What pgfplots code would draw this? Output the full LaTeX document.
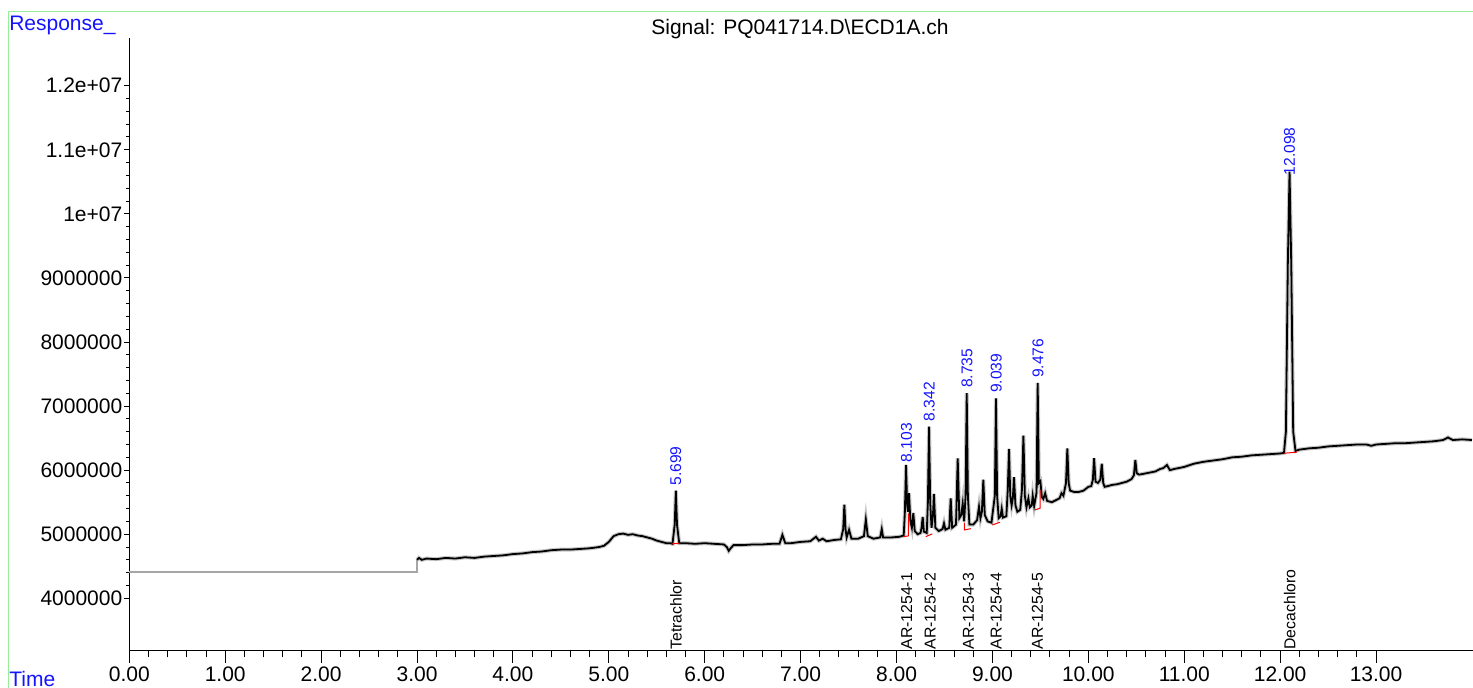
\documentclass[border=0pt]{standalone}
\usepackage{fontspec}
\setmainfont{Liberation Sans}
\usepackage{pgfplots}
\pgfplotsset{compat=1.18}
\usepackage{pgfplotstable}
\definecolor{frameGreen}{RGB}{150,238,150}
\definecolor{lblBlue}{RGB}{20,20,255}

% flat part before the detector trace starts (response in millions)
\pgfplotstableread{
x y
0 4.415
3.0 4.415
3.0 4.60
}\flatpart

% chromatogram trace, time in min, response in millions
\pgfplotstableread{
x y
3.00 4.60
3.02 4.63
3.05 4.60
3.10 4.62
3.20 4.61
3.30 4.63
3.40 4.62
3.50 4.64
3.60 4.63
3.70 4.65
3.80 4.66
3.90 4.67
4.00 4.69
4.10 4.70
4.20 4.72
4.30 4.73
4.40 4.75
4.50 4.76
4.60 4.76
4.70 4.77
4.80 4.78
4.90 4.80
4.95 4.82
5.00 4.88
5.05 4.97
5.10 5.00
5.15 5.01
5.20 4.99
5.25 5.00
5.30 4.98
5.35 4.97
5.40 4.95
5.45 4.93
5.50 4.90
5.55 4.88
5.60 4.86
5.64 4.86
5.664 4.85
5.687 5.15
5.699 5.68
5.711 5.15
5.734 4.86
5.80 4.86
5.90 4.85
6.00 4.86
6.10 4.85
6.20 4.84
6.23 4.80
6.25 4.74
6.27 4.78
6.30 4.83
6.40 4.83
6.50 4.84
6.60 4.84
6.70 4.85
6.78 4.85
6.81 4.99
6.84 4.86
6.90 4.86
7.00 4.88
7.10 4.89
7.16 4.96
7.19 4.90
7.23 4.93
7.27 4.89
7.35 4.91
7.42 4.92
7.444 5.08
7.456 5.46
7.468 5.08
7.48 4.95
7.505 5.07
7.53 4.93
7.60 4.93
7.66 4.97
7.68 5.23
7.70 4.97
7.76 4.93
7.83 4.95
7.846 5.08
7.86 4.95
7.95 4.95
8.03 4.96
8.075 4.98
8.087 5.35
8.099 6.08
8.111 5.45
8.12 5.35
8.13 5.64
8.145 5.20
8.16 5.10
8.175 5.33
8.19 5.05
8.22 5.00
8.25 5.02
8.261 5.10
8.273 5.27
8.285 5.04
8.315 5.02
8.327 5.50
8.339 6.68
8.351 5.50
8.365 5.10
8.38 5.30
8.39 5.63
8.405 5.10
8.44 5.05
8.48 5.08
8.495 5.17
8.51 5.07
8.55 5.10
8.565 5.56
8.58 5.10
8.62 5.15
8.638 6.185
8.655 5.25
8.675 5.30
8.69 5.48
8.705 5.20
8.72 5.60
8.732 7.20
8.744 5.60
8.76 5.15
8.80 5.15
8.84 5.22
8.86 5.43
8.875 5.25
8.89 5.35
8.905 5.85
8.92 5.30
8.95 5.20
8.99 5.18
9.025 5.60
9.037 7.12
9.049 5.60
9.065 5.25
9.085 5.28
9.097 5.40
9.11 5.26
9.145 5.28
9.16 5.70
9.173 6.33
9.186 5.60
9.20 5.45
9.212 5.55
9.225 5.89
9.24 5.45
9.26 5.35
9.29 5.38
9.308 5.70
9.323 6.54
9.338 5.60
9.355 5.42
9.375 5.56
9.39 5.42
9.41 5.45
9.42 5.60
9.435 5.44
9.46 5.65
9.472 7.36
9.484 5.80
9.50 5.83
9.515 5.58
9.53 5.55
9.55 5.64
9.57 5.52
9.62 5.50
9.66 5.53
9.70 5.56
9.72 5.64
9.74 5.60
9.767 5.80
9.781 6.34
9.795 5.80
9.81 5.68
9.85 5.66
9.90 5.66
9.95 5.68
10.00 5.74
10.03 5.75
10.047 5.85
10.06 6.185
10.075 5.82
10.10 5.80
10.125 5.85
10.14 6.10
10.155 5.80
10.17 5.74
10.20 5.75
10.25 5.77
10.30 5.78
10.35 5.80
10.40 5.82
10.45 5.86
10.475 5.92
10.49 6.16
10.505 5.95
10.53 5.93
10.60 5.95
10.70 5.98
10.75 6.02
10.78 6.03
10.82 6.08
10.85 6.00
10.90 6.02
11.00 6.05
11.10 6.10
11.20 6.13
11.30 6.15
11.40 6.17
11.50 6.20
11.60 6.21
11.70 6.23
11.80 6.24
11.90 6.25
12.00 6.26
12.04 6.27
12.06 6.60
12.08 9.20
12.098 10.66
12.116 9.20
12.136 6.60
12.16 6.30
12.20 6.32
12.30 6.34
12.40 6.35
12.50 6.37
12.60 6.38
12.70 6.39
12.80 6.40
12.90 6.40
12.95 6.38
13.00 6.40
13.10 6.41
13.20 6.42
13.30 6.42
13.40 6.43
13.50 6.44
13.60 6.45
13.70 6.47
13.75 6.51
13.80 6.47
13.90 6.48
14.00 6.47
}\trace

\begin{document}
\begin{tikzpicture}[
  pk/.style={rotate=90, anchor=west, inner sep=0pt, text=lblBlue, font=\fontsize{7.8}{9}\selectfont},
  cmp/.style={rotate=90, anchor=west, inner sep=0pt, text=black, font=\fontsize{7.9}{9}\selectfont},
]
\path[use as bounding box] (-64.65pt,-18.65pt) rectangle (671.85pt,325.35pt);
\draw[frameGreen, line width=0.65pt] (-60.5pt,-20pt) -- (-60.5pt,319.5pt) -- (675pt,319.5pt);
\node[anchor=base west, text=lblBlue, inner sep=0pt, font=\fontsize{10.5}{12}\selectfont] at (-60.2pt,309.85pt) {Response\_};
\node[anchor=base west, text=lblBlue, inner sep=0pt, font=\fontsize{10.5}{12}\selectfont] at (-60.2pt,-17.8pt) {Time};
\node[anchor=base, inner sep=0pt, font=\fontsize{10.5}{12}\selectfont] at (335.35pt,308.2pt) {Signal: PQ041714.D\textbackslash ECD1A.ch};

% x axis
\begin{axis}[
  at={(0pt,0pt)}, anchor=south west,
  scale only axis, width=671.85pt, height=306.35pt,
  xmin=0, xmax=14.011, ymin=3.182, ymax=12.745,
  hide y axis, axis x line*=bottom,
  axis line style={line width=0.5pt, -},
  xtick={0,1,2,3,4,5,6,7,8,9,10,11,12,13},
  xticklabels={0.00,1.00,2.00,3.00,4.00,5.00,6.00,7.00,8.00,9.00,10.00,11.00,12.00,13.00},
  minor x tick num=4,
  tick align=outside, major tick length=6pt, minor tick length=3.3pt,
  tick style={line width=0.5pt, black},
  xticklabel style={font=\fontsize{10.5}{12}\selectfont, anchor=north, inner sep=0pt, yshift=-1.7pt},
]
\addplot[draw=none] coordinates {(1,5)};
\end{axis}

% data and y axis
\begin{axis}[
  at={(0pt,0pt)}, anchor=south west,
  scale only axis, width=671.85pt, height=306.35pt,
  xmin=0, xmax=14.011, ymin=3.182, ymax=12.745,
  hide x axis, axis y line*=left,
  axis line style={line width=0.5pt, -},
  ytick={4,5,6,7,8,9,10,11,12},
  yticklabels={4000000,5000000,6000000,7000000,8000000,9000000,1e+07,1.1e+07,1.2e+07},
  minor y tick num=4,
  tick align=outside, major tick length=2.5pt, minor tick length=1.5pt,
  tick style={line width=0.5pt, black},
  yticklabel style={font=\fontsize{10.5}{12}\selectfont, anchor=east, inner sep=0pt, xshift=-0.8pt},
  clip=false,
]
\addplot[gray!70, line width=1pt] table[x=x,y=y] {\flatpart};
\addplot[gray!45, line width=2.0pt] table[x=x,y=y] {\trace};
\addplot[black, line width=0.9pt] table[x=x,y=y] {\trace};
% integration baselines
\addplot[red, line width=0.5pt] coordinates {(5.656,4.847) (5.735,4.86)};
\addplot[red, line width=0.5pt] coordinates {(8.071,4.962) (8.123,4.973) (8.123,5.327)};
\addplot[red, line width=0.5pt] coordinates {(8.304,4.962) (8.373,5.004)};
\addplot[red, line width=0.5pt] coordinates {(8.707,5.18) (8.707,5.066) (8.774,5.087)};
\addplot[red, line width=0.5pt] coordinates {(8.999,5.145) (9.079,5.187)};
\addplot[red, line width=0.5pt] coordinates {(9.444,5.379) (9.496,5.405) (9.496,5.69)};
\addplot[red, line width=0.5pt] coordinates {(12.04,6.264) (12.174,6.28)};
% peak retention times
\node[pk] at (axis cs:5.699,5.754) {5.699};
\node[pk] at (axis cs:8.103,6.117) {8.103};
\node[pk] at (axis cs:8.342,6.758) {8.342};
\node[pk] at (axis cs:8.735,7.28) {8.735};
\node[pk] at (axis cs:9.039,7.20) {9.039};
\node[pk] at (axis cs:9.476,7.435) {9.476};
\node[pk] at (axis cs:12.098,10.597) {12.098};
% compound names
\node[cmp] at (axis cs:5.70,3.195) {Tetrachlor};
\node[cmp] at (axis cs:8.107,3.195) {AR-1254-1};
\node[cmp] at (axis cs:8.35,3.195) {AR-1254-2};
\node[cmp] at (axis cs:8.75,3.195) {AR-1254-3};
\node[cmp] at (axis cs:9.04,3.195) {AR-1254-4};
\node[cmp] at (axis cs:9.47,3.195) {AR-1254-5};
\node[cmp] at (axis cs:12.10,3.195) {Decachloro};
\end{axis}
\end{tikzpicture}
\end{document}
